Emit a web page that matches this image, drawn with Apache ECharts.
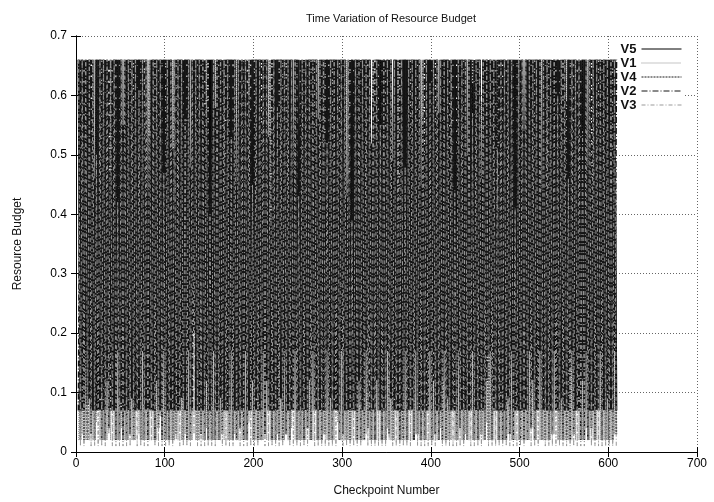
<!DOCTYPE html>
<html>
<head>
<meta charset="utf-8">
<script src="https://cdn.jsdelivr.net/npm/echarts@6/dist/echarts.min.js"></script>
<style>html,body{margin:0;padding:0;background:#fff;}#c{width:714px;height:502px;}</style>
</head>
<body>
<div id="c"></div>
<script>
const titleText = "Time Variation of Resource Budget";
const xName = "Checkpoint Number";
const yName = "Resource Budget";
const seriesNames = ["V5", "V1", "V4", "V2", "V3"];
const xTicks = [0, 100, 200, 300, 400, 500, 600, 700];
const yTicks = [0, 0.1, 0.2, 0.3, 0.4, 0.5, 0.6, 0.7];
const firstCheckpoint = 3;
const checkpointStep = 2;

const V5 = [
.66,.07,.66,.07,.66,.08,.66,.07,.58,.07,.66,.07,.66,.10,.66,.07,.66,.07,.47,.07,
.66,.07,.66,.09,.66,.07,.66,.07,.66,.14,.61,.07,.66,.07,.66,.07,.66,.08,.66,.07,
.53,.07,.66,.07,.66,.07,.66,.11,.66,.07,.66,.07,.66,.07,.42,.07,.66,.07,.66,.09,
.66,.07,.66,.07,.66,.20,.66,.07,.66,.07,.66,.07,.57,.07,.66,.08,.66,.07,.66,.07,
.66,.07,.49,.07,.66,.07,.66,.07,.66,.12,.66,.07,.66,.07,.66,.07,.60,.07,.66,.07,
.66,.09,.66,.07,.66,.07,.66,.07,.38,.07,.66,.07,.66,.15,.66,.07,.66,.07,.66,.07,
.66,.07,.66,.07,.55,.07,.66,.08,.66,.07,.66,.07,.66,.07,.66,.11,.66,.07,.51,.07,
.66,.07,.66,.07,.66,.07,.66,.07,.66,.17,.66,.07,.46,.07,.66,.07,.66,.07,.66,.08,
.66,.07,.66,.10,.66,.07,.59,.07,.66,.07,.66,.07,.66,.07,.66,.13,.66,.07,.66,.07,
.44,.07,.66,.07,.66,.07,.66,.07,.66,.09,.66,.07,.66,.07,.56,.07,.66,.07,.66,.07,
.66,.07,.66,.07,.66,.12,.66,.07,.66,.07,.50,.07,.66,.07,.66,.07,.66,.08,.66,.07,
.66,.07,.62,.07,.66,.07,.66,.07,.66,.07,.66,.16,.66,.07,.66,.07,.41,.07,.66,.07,
.66,.08,.66,.07,.66,.07,.66,.07,.54,.07,.66,.07,.66,.07,.66,.10,.66,.07,.66,.07,
.66,.07,.66,.07,.48,.07,.66,.07,.66,.07,.66,.07,.66,.07,.66,.07,.66,.14,.60,.07,
.66,.07,.66,.09,.66,.07,.66,.07,.66,.07,.45,.07,.66,.07,.66,.07,.66,.07,.66,.07,
.66,.07,.66,.07
];
const V1 = [
.02,.66,.03,.66,.02,.66,.02,.51,.02,.66,.05,.66,.02,.66,.02,.66,.02,.39,.02,.66,
.02,.66,.02,.66,.04,.66,.02,.66,.02,.66,.02,.58,.02,.66,.03,.66,.02,.66,.02,.66,
.02,.45,.02,.66,.02,.66,.06,.66,.02,.66,.02,.66,.02,.66,.02,.52,.02,.66,.02,.66,
.03,.66,.02,.66,.02,.66,.02,.66,.02,.36,.02,.66,.04,.66,.02,.66,.02,.66,.02,.62,
.02,.66,.02,.66,.02,.66,.02,.66,.03,.66,.02,.48,.02,.66,.02,.66,.05,.66,.02,.66,
.02,.66,.02,.55,.02,.66,.02,.66,.02,.66,.02,.66,.03,.66,.02,.43,.02,.66,.02,.66,
.04,.66,.02,.66,.02,.66,.02,.60,.02,.66,.02,.66,.02,.66,.02,.66,.02,.66,.03,.34,
.02,.66,.02,.66,.02,.66,.05,.66,.02,.66,.02,.66,.02,.50,.02,.66,.02,.66,.02,.66,
.02,.66,.03,.66,.02,.41,.02,.66,.02,.66,.02,.66,.02,.66,.04,.66,.02,.57,.02,.66,
.02,.66,.02,.66,.02,.66,.02,.66,.02,.66,.03,.66,.02,.66,.02,.47,.02,.66,.02,.66,
.02,.53,.02,.66,.04,.66,.02,.66,.02,.66,.02,.66,.02,.38,.02,.66,.02,.66,.03,.66,
.02,.66,.02,.66,.02,.66,.02,.59,.02,.66,.05,.66,.02,.66,.02,.66,.02,.66,.02,.44,
.02,.66,.03,.66,.02,.66,.02,.66,.02,.66,.02,.52,.02,.66,.02,.66,.04,.66,.02,.66,
.02,.66,.02,.37,.02,.66,.02,.66,.03,.66,.02,.66,.02,.66,.02,.66,.02,.61,.02,.66,
.02,.66,.02,.66,.02,.66,.04,.66,.02,.49,.02,.66,.02,.66,.02,.66,.02,.66,.02,.66,
.02,.66,.03,.66
];
const V4 = [
.66,.02,.66,.02,.30,.02,.66,.03,.66,.02,.66,.25,.66,.02,.66,.02,.66,.04,.66,.33,
.66,.02,.66,.02,.66,.02,.42,.02,.66,.03,.66,.02,.66,.28,.66,.02,.66,.02,.66,.02,
.66,.31,.66,.02,.66,.04,.66,.02,.66,.02,.37,.02,.66,.02,.66,.03,.66,.24,.66,.02,
.66,.02,.66,.02,.66,.35,.66,.02,.66,.03,.66,.02,.66,.02,.29,.02,.66,.02,.66,.02,
.66,.03,.66,.27,.66,.02,.66,.02,.66,.02,.66,.04,.45,.02,.66,.02,.66,.32,.66,.02,
.66,.02,.66,.02,.66,.03,.66,.26,.66,.02,.66,.02,.66,.02,.66,.02,.34,.03,.66,.02,
.66,.30,.66,.02,.66,.02,.40,.02,.66,.04,.66,.02,.66,.23,.66,.02,.66,.02,.66,.03,
.66,.02,.66,.02,.66,.29,.66,.02,.66,.03,.66,.02,.66,.02,.66,.36,.66,.02,.43,.02,
.66,.02,.66,.04,.66,.02,.66,.02,.66,.27,.66,.02,.66,.02,.66,.03,.66,.02,.66,.31,
.66,.02,.35,.02,.66,.02,.66,.25,.66,.02,.66,.03,.66,.02,.66,.02,.66,.33,.66,.02,
.66,.03,.66,.02,.66,.02,.66,.02,.66,.02,.66,.28,.66,.02,.39,.04,.66,.02,.66,.02,
.66,.34,.66,.02,.66,.02,.66,.03,.66,.02,.66,.02,.66,.02,.66,.26,.66,.02,.66,.02,
.66,.02,.66,.03,.44,.02,.66,.30,.66,.02,.66,.02,.66,.02,.66,.04,.66,.02,.66,.29,
.66,.02,.66,.02,.66,.02,.66,.03,.66,.32,.66,.02,.31,.02,.66,.02,.66,.02,.66,.03,
.66,.27,.66,.02,.66,.02,.66,.02,.66,.04,.66,.02,.66,.35,.66,.02,.66,.02,.41,.02,
.66,.02,.66,.03
];
const V2 = [
.07,.66,.07,.66,.17,.66,.09,.66,.07,.46,.07,.66,.07,.66,.07,.66,.12,.66,.07,.66,
.07,.66,.17,.66,.07,.55,.07,.66,.07,.66,.09,.66,.07,.66,.07,.66,.17,.66,.07,.44,
.07,.66,.07,.66,.12,.66,.07,.66,.17,.66,.07,.66,.07,.51,.07,.66,.07,.66,.09,.66,
.07,.66,.17,.48,.07,.66,.07,.66,.07,.66,.07,.66,.12,.66,.07,.66,.17,.58,.07,.66,
.09,.66,.07,.66,.07,.66,.17,.66,.07,.45,.07,.66,.07,.66,.17,.66,.07,.66,.12,.66,
.07,.66,.07,.66,.17,.66,.12,.53,.07,.66,.07,.66,.07,.66,.09,.66,.17,.66,.07,.66,
.07,.47,.17,.66,.07,.66,.07,.66,.07,.66,.12,.66,.17,.66,.07,.56,.07,.66,.07,.66,
.17,.66,.09,.66,.07,.66,.07,.66,.17,.66,.07,.43,.07,.66,.07,.66,.07,.66,.12,.66,
.07,.66,.17,.66,.07,.52,.07,.66,.12,.66,.07,.66,.07,.66,.17,.66,.09,.49,.07,.66,
.07,.66,.07,.66,.17,.66,.07,.66,.07,.66,.17,.66,.07,.45,.07,.66,.07,.66,.17,.66,
.12,.66,.07,.57,.07,.66,.17,.66,.09,.66,.07,.66,.07,.66,.17,.66,.07,.66,.07,.50,
.07,.66,.17,.66,.07,.66,.07,.46,.07,.66,.12,.66,.17,.66,.07,.66,.07,.66,.07,.66,
.07,.66,.09,.66,.17,.66,.07,.66,.07,.66,.07,.54,.07,.66,.17,.66,.12,.66,.07,.66,
.17,.44,.07,.66,.07,.66,.07,.66,.17,.66,.07,.66,.09,.66,.07,.59,.07,.66,.17,.66,
.07,.66,.07,.66,.12,.66,.17,.48,.07,.66,.07,.66,.07,.66,.17,.66,.07,.66,.09,.66,
.07,.66,.17,.66
];
const V3 = [
.66,.01,.66,.01,.66,.02,.66,.01,.66,.01,.50,.01,.66,.01,.66,.01,.66,.03,.66,.01,
.66,.01,.42,.01,.66,.01,.66,.01,.66,.01,.66,.02,.66,.01,.61,.01,.66,.01,.66,.01,
.66,.02,.66,.01,.66,.01,.66,.01,.47,.01,.66,.01,.66,.01,.66,.02,.66,.01,.66,.01,
.56,.01,.66,.01,.66,.03,.66,.01,.66,.01,.66,.01,.66,.01,.40,.01,.66,.01,.66,.02,
.66,.01,.66,.01,.66,.01,.53,.01,.66,.02,.66,.01,.66,.01,.66,.01,.66,.01,.45,.01,
.66,.01,.66,.02,.66,.01,.66,.01,.66,.01,.66,.01,.58,.01,.66,.01,.66,.03,.66,.01,
.66,.01,.66,.01,.43,.01,.66,.01,.66,.01,.66,.02,.66,.01,.66,.01,.66,.01,.66,.01,
.52,.01,.66,.01,.66,.01,.66,.02,.66,.01,.66,.01,.66,.01,.39,.01,.66,.01,.66,.01,
.66,.02,.66,.01,.66,.01,.66,.01,.66,.01,.55,.01,.66,.01,.66,.02,.66,.01,.66,.01,
.66,.01,.66,.01,.48,.01,.66,.01,.66,.03,.66,.01,.66,.01,.66,.01,.66,.01,.62,.01,
.66,.01,.66,.02,.66,.01,.66,.01,.66,.01,.66,.01,.44,.01,.66,.01,.66,.01,.66,.02,
.66,.01,.57,.01,.66,.01,.66,.01,.66,.02,.66,.01,.66,.01,.66,.01,.51,.01,.66,.01,
.66,.01,.66,.01,.66,.01,.41,.01,.66,.01,.66,.01,.66,.02,.66,.01,.66,.01,.66,.01,
.66,.02,.66,.01,.66,.01,.66,.01,.66,.01,.60,.01,.66,.01,.66,.01,.46,.01,.66,.01,
.66,.01,.66,.01,.54,.01,.66,.02,.66,.01,.66,.01,.66,.01,.66,.01,.66,.01,.66,.01,
.66,.01,.66,.01
];

const seriesValues = [V5, V1, V4, V2, V3];
const seriesColors = ["#000000", "#8c8c8c", "#1a1a1a", "#141414", "#999999"];
const seriesDash = ["solid", [1, 1], [2, 1], [6, 2, 1, 2], [4, 2, 1, 2]];
const seriesWidth = [2.1, 1, 1.8, 2.1, 1];

const FONT = "'Liberation Sans', Arial, Helvetica, sans-serif";
const chart = echarts.init(document.getElementById('c'), null, {renderer: 'canvas'});

const toPairs = vals => vals.map((v, i) => [firstCheckpoint + i * checkpointStep, v]);

const axisCommon = {
  axisLine: {show: true, lineStyle: {color: '#000', width: 1}},
  axisTick: {show: true, inside: true, length: 5, lineStyle: {color: '#000', width: 1}}
};

const option = {
  backgroundColor: '#fff',
  animation: false,
  title: {
    text: titleText,
    left: 386,
    textAlign: 'center',
    top: 8,
    textStyle: {fontFamily: FONT, fontSize: 11, fontWeight: 'normal', color: '#111'}
  },
  legend: {
    data: seriesNames,
    orient: 'vertical',
    right: 30,
    top: 40,
    align: 'right',
    itemWidth: 40,
    itemHeight: 14,
    itemGap: 0,
    padding: [2, 2, 2, 2],
    backgroundColor: '#fff',
    z: 1,
    itemStyle: {opacity: 0, borderWidth: 0},
    lineStyle: {width: 1},
    textStyle: {fontFamily: FONT, fontSize: 13, fontWeight: 'bold', color: '#111', lineHeight: 14}
  },
  grid: {left: 76, right: 17, top: 36, bottom: 46, containLabel: false},
  xAxis: [
    Object.assign({
      type: 'value', min: xTicks[0], max: xTicks[xTicks.length - 1], interval: 100,
      position: 'bottom',
      name: xName, nameLocation: 'middle', nameGap: 33,
      nameTextStyle: {fontFamily: FONT, fontSize: 12, color: '#111'},
      axisLabel: {fontFamily: FONT, fontSize: 12, color: '#000', margin: 6},
      splitLine: {show: true, lineStyle: {color: '#666', width: 1, type: [1, 2]}}
    }, axisCommon),
    Object.assign({
      type: 'value', min: xTicks[0], max: xTicks[xTicks.length - 1], interval: 100,
      position: 'top', axisLabel: {show: false}, splitLine: {show: false}
    }, axisCommon)
  ],
  yAxis: [
    Object.assign({
      type: 'value', min: yTicks[0], max: yTicks[yTicks.length - 1], interval: 0.1,
      position: 'left',
      name: yName, nameLocation: 'middle', nameGap: 52, nameRotate: 90,
      nameTextStyle: {fontFamily: FONT, fontSize: 12, color: '#111'},
      axisLabel: {fontFamily: FONT, fontSize: 12, color: '#000', margin: 9},
      splitLine: {show: true, lineStyle: {color: '#666', width: 1, type: [1, 2]}}
    }, axisCommon),
    Object.assign({
      type: 'value', min: yTicks[0], max: yTicks[yTicks.length - 1], interval: 0.1,
      position: 'right', axisLabel: {show: false}, splitLine: {show: false}
    }, axisCommon)
  ],
  series: seriesNames.map((name, k) => ({
    name: name,
    type: 'line',
    xAxisIndex: 0,
    yAxisIndex: 0,
    data: toPairs(seriesValues[k]),
    symbol: 'none',
    showSymbol: false,
    silent: true,
    z: 2,
    lineStyle: {color: seriesColors[k], width: seriesWidth[k], type: seriesDash[k]},
    itemStyle: {color: seriesColors[k]}
  }))
};
chart.setOption(option);
</script>
</body>
</html>
